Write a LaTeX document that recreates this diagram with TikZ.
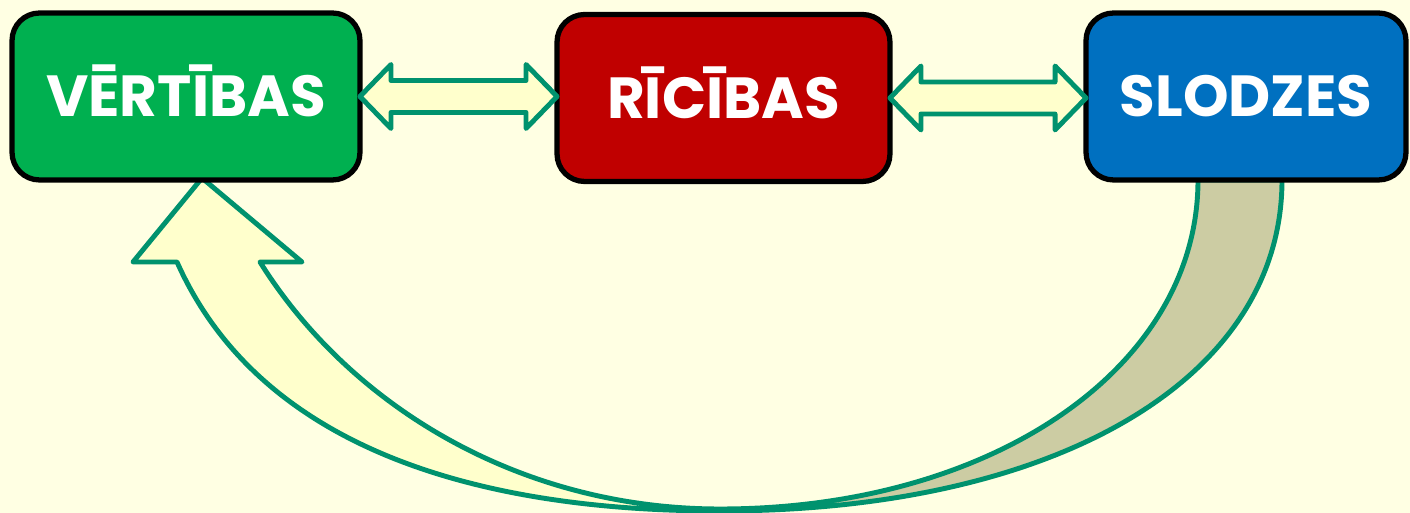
\documentclass[tikz,border=0pt]{standalone}
\usepackage{fontspec}
\setsansfont{Poppins}
\usetikzlibrary{calc}
\definecolor{bgyel}{RGB}{255,255,227}
\definecolor{arryel}{RGB}{255,255,204}
\definecolor{khaki}{RGB}{204,204,163}
\definecolor{lgreen}{RGB}{0,146,110}
\definecolor{boxgreen}{RGB}{0,176,80}
\definecolor{boxred}{RGB}{192,0,0}
\definecolor{boxblue}{RGB}{0,112,192}
% double block arrow between two points on one level
\newcommand\dblarrow[2]{%
  \draw[dblarr] (#1) -- ++(31,32) -- ++(0,-16) -- ($(#2)+(-31,16)$) -- ++(0,16)
    -- (#2) -- ++(-31,-32) -- ++(0,16) -- ($(#1)+(31,-16)$) -- ++(0,-16) -- cycle;}
\begin{document}
\begin{tikzpicture}[x=.02cm,y=.02cm,
    box/.style={draw=black,line width=3pt,rounded corners=.55cm,minimum height=3.34cm,
      outer sep=0pt,text=white,text height=23pt,text depth=0pt,
      font=\sffamily\bfseries\fontsize{33}{33}\selectfont},
    dblarr/.style={draw=lgreen,fill=arryel,line width=2.8pt,line join=round},
    curvarr/.style={draw=lgreen,line width=2.8pt,line join=round}]
    \fill[bgyel] (0,0) rectangle (1410,513);
    \useasboundingbox (0,0) rectangle (1410,513);
    % curved arrow back from the loads
    \fill[arryel] (202,335) -- (302,251) -- (260,251) .. controls +(-58:170) and +(180:200) .. (720,4)
        -- (720,2) .. controls +(180:250) and +(-66:200) .. (177,251) -- (133,251) -- cycle;
    \fill[khaki] (720,4) .. controls +(0:272) and +(-90:188) .. (1198,333) -- (1282,333)
        .. controls +(-90:199) and +(0:337) .. (720,2) -- cycle;
    \draw[curvarr] (202,335) -- (302,251) -- (260,251) .. controls +(-58:170) and +(180:200) .. (720,4)
        .. controls +(0:272) and +(-90:188) .. (1198,333) -- (1282,333)
        .. controls +(-90:199) and +(0:337) .. (720,2)
        .. controls +(180:250) and +(-66:200) .. (177,251) -- (133,251) -- cycle;
    % the three boxes
    \node[box,fill=boxgreen,minimum width=6.96cm] (vert) at (186,416.5) {VĒRTĪBAS};
    \node[box,fill=boxred,minimum width=6.66cm] (ric) at (723.5,415) {RĪCĪBAS};
    \node[box,fill=boxblue,minimum width=6.4cm] (slod) at (1246,416.5) {SLODZES};
    \dblarrow{vert.east}{ric.west |- vert.east}
    \dblarrow{ric.east}{slod.west |- ric.east}
\end{tikzpicture}
\end{document}
